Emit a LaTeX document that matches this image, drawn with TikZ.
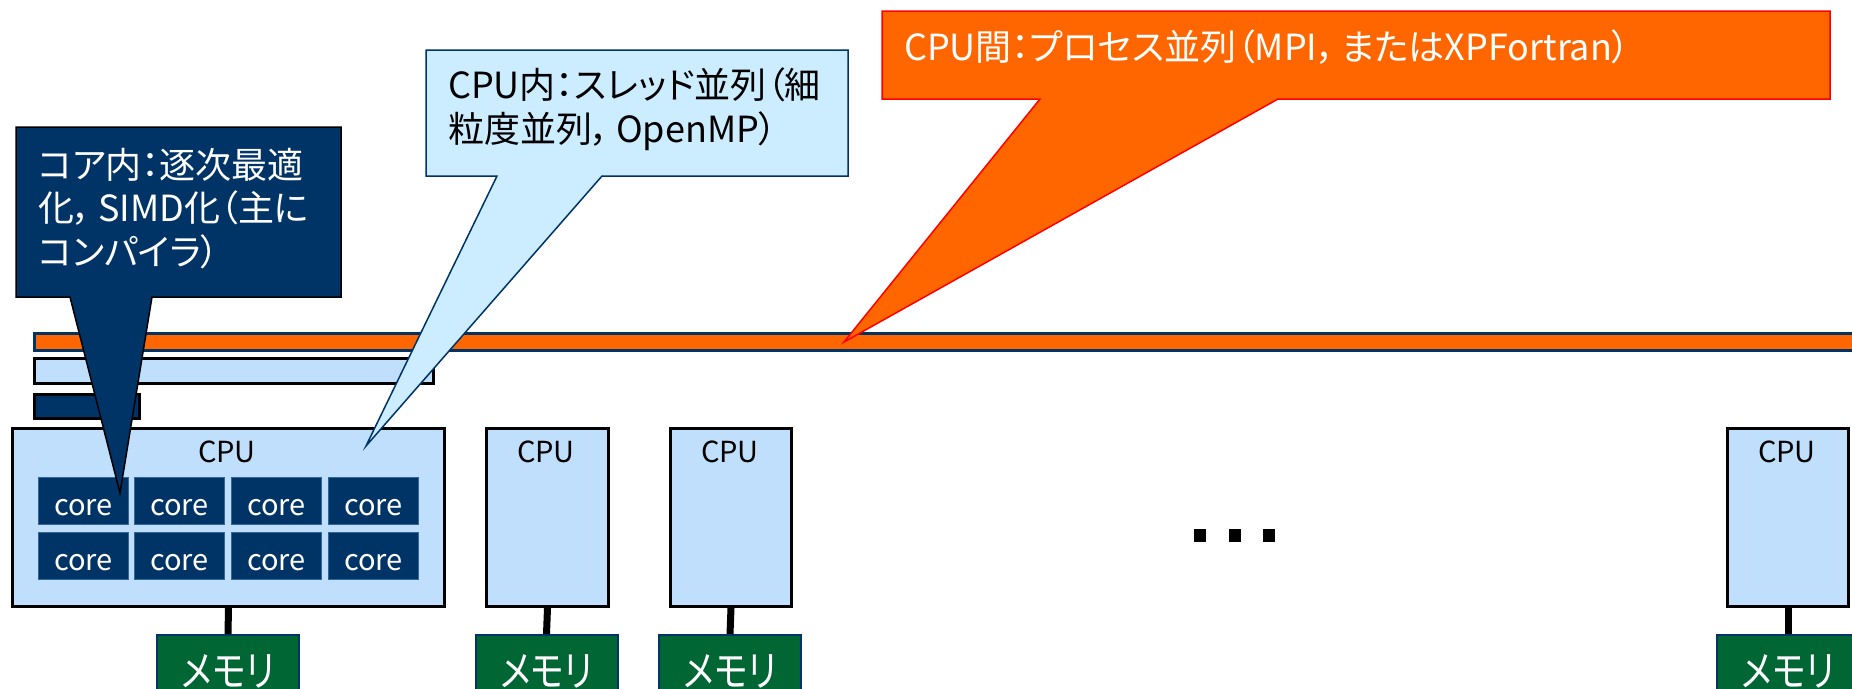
\documentclass[tikz,border=0pt]{standalone}
\usepackage{fontspec}
\setmainfont{Noto Sans CJK JP}[RawFeature=+palt]
\usepackage{graphicx}
\definecolor{navy}{HTML}{003366}
\definecolor{coreedge}{HTML}{336699}
\definecolor{cpublue}{HTML}{BFDFFC}
\definecolor{callblue}{HTML}{CCECFF}
\definecolor{orng}{HTML}{FF6600}
\definecolor{memgreen}{HTML}{006633}
\tikzset{
  cpubox/.style={draw=black, line width=3pt, fill=cpublue, inner sep=0pt, anchor=north west, minimum height=178pt},
  corebox/.style={fill=navy, draw=coreedge, line width=1pt, text=white, font=\fontsize{29}{30}\selectfont, minimum width=90pt, minimum height=47pt, inner sep=0pt, text height=29pt, text depth=0pt, anchor=north west},
  cpulabel/.style={font=\fontsize{29}{30}\selectfont, anchor=base, inner sep=0pt},
  membox/.style={fill=memgreen, draw=navy, line width=2pt, text=white, font=\fontsize{35}{40}\selectfont, minimum width=142pt, minimum height=80pt, inner sep=0pt, text height=22pt, text depth=0pt, anchor=north},
  link/.style={line width=7pt, draw=black},
  barbox/.style={line width=2.5pt, inner sep=0pt, anchor=north west},
  dotsq/.style={fill=black, minimum width=12pt, minimum height=13pt, inner sep=0pt, anchor=north west},
  calltext/.style={inner sep=0pt, anchor=base west, font=\fontsize{36}{44}\selectfont}
}
\newcommand{\memtext}{\scalebox{1}[1.2]{メモリ}}
\begin{document}
\begin{tikzpicture}[x=1pt,y=-1pt]
\useasboundingbox (0,0) rectangle (1852,688);
\clip (0,0) rectangle (1852,688);

% bars
\node[barbox, draw=navy, fill=orng, minimum width=1840pt, minimum height=17pt] (barorange) at (33,332) {};
\node[barbox, draw=black, fill=cpublue, minimum width=399pt, minimum height=25pt] (barlight) at (33,357) {};
\node[barbox, draw=black, fill=navy, minimum width=105pt, minimum height=24pt] (bardark) at (33,393) {};

% CPUs
\node[cpubox, minimum width=432pt] (cpu1) at (11,427) {};
\node[cpubox, minimum width=122pt] (cpu2) at (485,427) {};
\node[cpubox, minimum width=121pt] (cpu3) at (669,427) {};
\node[cpubox, minimum width=121pt] (cpu4) at (1726,427) {};
\node[cpulabel] (cpu1l) at (227,462) {CPU};
\node[cpulabel] (cpu2l) at (546,462) {CPU};
\node[cpulabel] (cpu3l) at (730,462) {CPU};
\node[cpulabel] (cpu4l) at (1787,462) {CPU};

% cores
\foreach \i/\x in {1/38,2/134,3/231,4/328}{
  \node[corebox] (corea\i) at (\x,477) {core};
  \node[corebox] (coreb\i) at (\x,532) {core};
}

% memories
\node[membox] (mem1) at (228,634) {\memtext};
\node[membox] (mem2) at (546.5,634) {\memtext};
\node[membox] (mem3) at (730,634) {\memtext};
\node[membox] (mem4) at (1788,634) {\memtext};
\draw[link] (cpu1.south) -- (mem1.north);
\draw[link] (cpu2.south) -- (mem2.north);
\draw[link] (cpu3.south) -- (mem3.north);
\draw[link] (cpu4.south) -- (mem4.north);

% dots
\node[dotsq] (dot1) at (1194,529) {};
\node[dotsq] (dot2) at (1229,529) {};
\node[dotsq] (dot3) at (1263,529) {};

% callout: core
\coordinate (tipcore) at (120,493);
\draw[fill=navy, draw=black, line width=1.5pt, line join=miter]
  (16,127) -- (341,127) -- (341,297) -- (152,297) -- (tipcore) -- (70,297) -- (16,297) -- cycle;
\node[calltext, text=white, font=\fontsize{36}{43}\selectfont] (ctcore) at (38,178)
  {\begin{tabular}[t]{@{}l@{}}コア内：逐次最適\\化，\,SIMD化（主に\\コンパイラ）\end{tabular}};

% callout: cpu
\coordinate (tipcpu) at (366,446);
\draw[fill=callblue, draw=navy, line width=1.5pt, line join=miter]
  (426,50) -- (848,50) -- (848,176) -- (602,176) -- (tipcpu) -- (497,176) -- (426,176) -- cycle;
\node[calltext, text=black] (ctcpu) at (448,98)
  {\begin{tabular}[t]{@{}l@{}}CPU内：スレッド並列（細\\粒度並列，\,OpenMP）\end{tabular}};

% callout: between CPUs
\coordinate (tipproc) at (844,342);
\draw[fill=orng, draw=red, line width=1.5pt, line join=miter]
  (882,11) -- (1830,11) -- (1830,99) -- (1278,99) -- (tipproc) -- (1040,99) -- (882,99) -- cycle;
\node[calltext, text=white] (ctproc) at (904,60)
  {CPU間：プロセス並列（MPI，\,またはXPFortran）};
\end{tikzpicture}
\end{document}
